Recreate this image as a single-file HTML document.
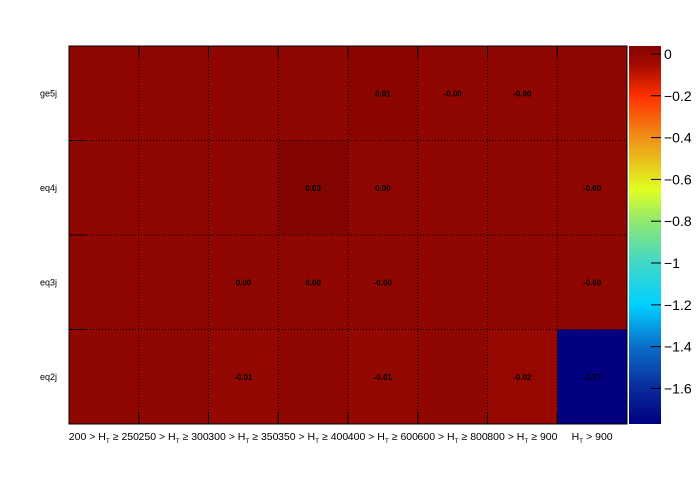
<!DOCTYPE html>
<html><head><meta charset="utf-8"><style>
body{margin:0;background:#fff;}
svg text{font-family:"Liberation Sans",sans-serif;}
</style></head><body>
<svg id="c" width="696" height="472" xmlns="http://www.w3.org/2000/svg">
<defs>
<linearGradient id="pal" x1="0" y1="1" x2="0" y2="0">
<stop offset="0" stop-color="#000080"/>
<stop offset="0.094" stop-color="#0a2a9c"/>
<stop offset="0.205" stop-color="#0a6ec8"/>
<stop offset="0.315" stop-color="#00d0ff"/>
<stop offset="0.426" stop-color="#40d8c8"/>
<stop offset="0.536" stop-color="#90e870"/>
<stop offset="0.62" stop-color="#e0ff20"/>
<stop offset="0.757" stop-color="#f09018"/>
<stop offset="0.868" stop-color="#ff3000"/>
<stop offset="0.95" stop-color="#a50a00"/>
<stop offset="1" stop-color="#820400"/>
</linearGradient>
</defs>
<g id="cells"></g>
<g id="grid"></g>
<rect x="69" y="46" width="558" height="378" fill="none" stroke="#000" stroke-width="1"/>
<rect x="629" y="46" width="32" height="378" fill="url(#pal)"/>
<g id="cbt"></g>
<g id="axes"></g>
</svg>
<script>
const xCats=["200 > H_T ≥ 250","250 > H_T ≥ 300","300 > H_T ≥ 350","350 > H_T ≥ 400","400 > H_T ≥ 600","600 > H_T ≥ 800","800 > H_T ≥ 900","H_T > 900"];
const yCats=["ge5j","eq4j","eq3j","eq2j"];
const rowGe5j=[0,0,0,0,0.01,-0.001,-0.001,0];
const rowEq4j=[0,0,0,0.03,0.001,0,0,-0.001];
const rowEq3j=[0,0,0.001,0.001,-0.001,0,0,-0.001];
const rowEq2j=[0,0,-0.01,0,-0.01,0,-0.02,-1.77];
const labGe5j=[null,null,null,null,"0.01","-0.00","-0.00",null];
const labEq4j=[null,null,null,"0.03","0.00",null,null,"-0.00"];
const labEq3j=[null,null,"0.00","0.00","-0.00",null,null,"-0.00"];
const labEq2j=[null,null,"-0.01",null,"-0.01",null,"-0.02","-1.77"];
const cbTicks=[0,-0.2,-0.4,-0.6,-0.8,-1,-1.2,-1.4,-1.6];
const zMin=-1.77,zMax=0.038;
const rows=[rowGe5j,rowEq4j,rowEq3j,rowEq2j], labs=[labGe5j,labEq4j,labEq3j,labEq2j];
const X0=69,X1=627,Y0=46,Y1=424;
const cw=(X1-X0)/xCats.length, rh=(Y1-Y0)/yCats.length;
const xs=i=>X0+i*cw, ys=j=>Y0+j*rh;
const zy=v=>Y1-(v-zMin)/(zMax-zMin)*(Y1-Y0);
const stops=[[0,[0,0,128]],[0.094,[10,42,156]],[0.205,[10,110,200]],[0.315,[0,208,255]],[0.426,[64,216,200]],[0.536,[144,232,112]],[0.62,[224,255,32]],[0.757,[240,144,24]],[0.868,[255,48,0]],[0.95,[165,10,0]],[0.979,[143,7,0]],[1,[128,4,0]]];
function col(v){let t=(v-zMin)/(zMax-zMin);t=Math.max(0,Math.min(1,t));
 for(let k=1;k<stops.length;k++){if(t<=stops[k][0]){const a=stops[k-1],b=stops[k];const f=(t-a[0])/(b[0]-a[0]);
 const c=a[1].map((q,i)=>Math.round(q+(b[1][i]-q)*f));return `rgb(${c})`;}}return "rgb(128,4,0)";}
const NS="http://www.w3.org/2000/svg";
function mk(t,a,p){const e=document.createElementNS(NS,t);for(const k in a)e.setAttribute(k,a[k]);p.appendChild(e);return e;}
const cells=document.getElementById('cells'),grid=document.getElementById('grid'),axes=document.getElementById('axes'),cbt=document.getElementById('cbt');
rows.forEach((r,j)=>r.forEach((v,i)=>{
 const e=mk('rect',{x:xs(i),y:ys(j),width:cw+0.5,height:rh+0.5,fill:col(v)},cells);
 
 
 if(labs[j][i]){const t=mk('text',{x:xs(i)+cw/2,y:ys(j)+rh/2+3,'font-size':8,'font-weight':'bold','text-anchor':'middle',fill:'#000'},cells);t.textContent=labs[j][i];
 
 }
}));
for(let i=1;i<xCats.length;i++){const l=mk('line',{x1:xs(i),x2:xs(i),y1:Y0,y2:Y1,stroke:'#000','stroke-dasharray':'1,2'},grid);
 
 }
for(let j=1;j<yCats.length;j++){const l=mk('line',{x1:X0,x2:X1,y1:ys(j),y2:ys(j),stroke:'#000','stroke-dasharray':'1,2'},grid);
 
 }
xCats.forEach((c,i)=>{const cx=xs(i)+cw/2;
 mk('line',{x1:xs(i),x2:xs(i),y1:Y1,y2:Y1-11,stroke:'#000'},axes);
 mk('line',{x1:xs(i),x2:xs(i),y1:Y0,y2:Y0+11,stroke:'#000'},axes);
 const t=mk('text',{x:cx,y:440,'font-size':10.5,'text-anchor':'middle',fill:'#000'},axes);
 const p=c.split('H_T');t.appendChild(document.createTextNode(p[0]+'H'));
 const s=mk('tspan',{'font-size':6.5,dy:3},t);s.textContent='T';
 const s2=mk('tspan',{dy:-3},t);s2.textContent=p[1];
 
 });
yCats.forEach((c,j)=>{mk('line',{x1:X0,x2:X0+17,y1:ys(j),y2:ys(j),stroke:'#000'},axes);
 const t=mk('text',{x:40,y:ys(j)+rh/2+3,'font-size':9,fill:'#000'},axes);t.textContent=c;
 
 });
cbTicks.forEach(v=>{const y=zy(v);mk('line',{x1:651,x2:661,y1:y,y2:y,stroke:'#000'},cbt);
 const t=mk('text',{x:664,y:y+5,'font-size':14,fill:'#000'},cbt);t.textContent=v===0?'0':'\u2212'+Math.abs(v);
 
 });
</script>
</body></html>
